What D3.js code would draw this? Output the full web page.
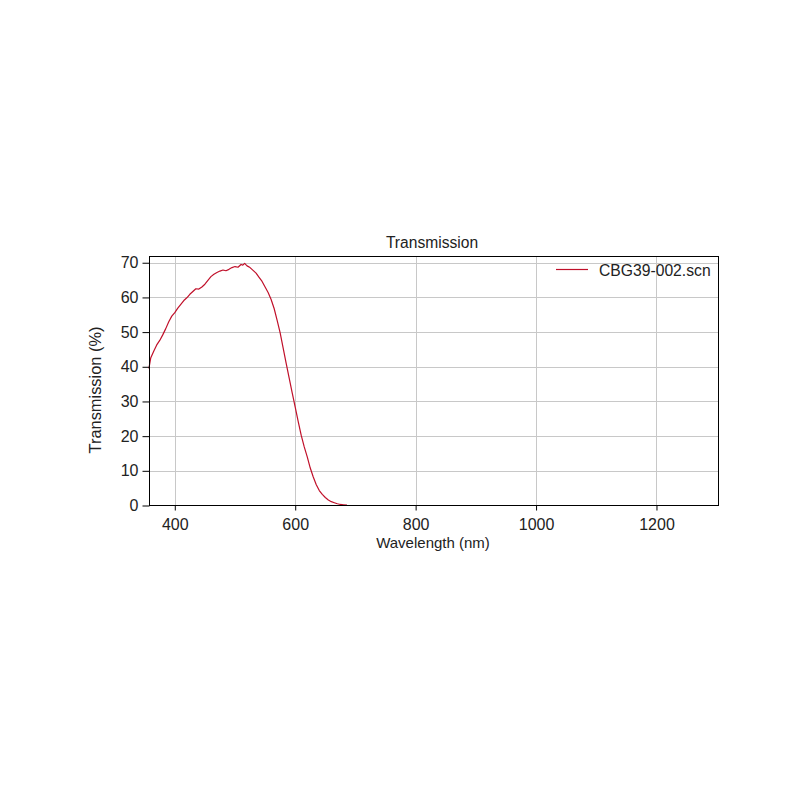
<!DOCTYPE html>
<html>
<head>
<meta charset="utf-8">
<script src="https://cdn.jsdelivr.net/npm/d3@7"></script>
<style>
  html, body { margin: 0; padding: 0; background: #ffffff; }
  svg { display: block; }
  text { font-family: "Liberation Sans", Arial, sans-serif; fill: #222; }
</style>
</head>
<body>
<svg id="chart" width="800" height="800"></svg>
<script>
const title = "Transmission";
const xLabel = "Wavelength (nm)";
const yLabel = "Transmission (%)";
const seriesName = "CBG39-002.scn";
const xTicks = [400, 600, 800, 1000, 1200];
const yTicks = [0, 10, 20, 30, 40, 50, 60, 70];
const xDomain = [358, 1303];
const yDomain = [0, 71.8];

const wavelengths = [357, 360, 365, 370, 375, 380, 385, 390, 395, 400, 405, 410, 415, 420, 425, 430, 435, 440, 445, 450,
  455, 460, 465, 470, 475, 480, 485, 490, 495, 500, 505, 510, 513, 516, 520, 525, 530, 535, 540, 545,
  550, 555, 560, 565, 570, 575, 580, 585, 590, 595, 600, 605, 610, 615, 620, 625, 630, 635, 640, 645,
  650, 655, 660, 665, 670, 675, 680, 686];
const transmission = [39.5, 42.5, 44.5, 46.3, 47.6, 49.2, 51.0, 53.0, 54.6, 55.6, 56.9, 58.0, 59.1, 59.9, 60.9, 61.7, 62.5, 62.4, 63.0, 63.8,
  64.9, 66.0, 66.7, 67.2, 67.6, 67.9, 67.7, 68.1, 68.6, 68.9, 68.7, 69.5, 69.3, 69.8, 69.1, 68.6, 67.8, 67.0, 65.8, 64.6,
  63.0, 61.4, 59.4, 56.8, 53.4, 49.8, 45.4, 41.0, 36.7, 32.5, 28.4, 24.2, 20.2, 16.9, 14.0, 10.8, 8.2, 6.0, 4.3, 3.2,
  2.3, 1.6, 1.1, 0.8, 0.5, 0.3, 0.2, 0.1];

const lineColor = "#c0102a";
const svg = d3.select("#chart");

const x = d3.scaleLinear().domain(xDomain).range([149.5, 718.5]);
const y = d3.scaleLinear().domain(yDomain).range([505.5, 256.5]);

// gridlines
const grid = svg.append("g").attr("stroke", "#c8c8c8").attr("stroke-width", 1);
grid.selectAll("line.v").data(xTicks).join("line")
  .attr("x1", d => Math.round(x(d)) + 0.5).attr("x2", d => Math.round(x(d)) + 0.5)
  .attr("y1", y.range()[1]).attr("y2", y.range()[0]);
grid.selectAll("line.h").data(yTicks.filter(d => d > 0)).join("line")
  .attr("y1", d => Math.round(y(d)) + 0.5).attr("y2", d => Math.round(y(d)) + 0.5)
  .attr("x1", x.range()[0]).attr("x2", x.range()[1]);

// data line
const pts = wavelengths.map((w, i) => [w, transmission[i]]);
svg.append("path")
  .datum(pts)
  .attr("fill", "none")
  .attr("stroke", lineColor)
  .attr("stroke-width", 1.2)
  .attr("stroke-linejoin", "round")
  .attr("d", d3.line().x(d => x(d[0])).y(d => y(d[1])));

// frame
svg.append("rect")
  .attr("x", x.range()[0]).attr("y", y.range()[1])
  .attr("width", x.range()[1] - x.range()[0])
  .attr("height", y.range()[0] - y.range()[1])
  .attr("fill", "none").attr("stroke", "#000").attr("stroke-width", 1);

// axes
const xAxis = svg.append("g")
  .attr("transform", `translate(0,${y.range()[0]})`)
  .call(d3.axisBottom(x).tickValues(xTicks).tickSize(5).tickPadding(8).tickFormat(d3.format("d")));
const yAxis = svg.append("g")
  .attr("transform", `translate(${x.range()[0]},0)`)
  .call(d3.axisLeft(y).tickValues(yTicks).tickSize(7).tickPadding(4).tickFormat(d3.format("d")));
[xAxis, yAxis].forEach(g => {
  g.select(".domain").remove();
  g.selectAll(".tick line").attr("stroke", "#000");
  g.selectAll(".tick text").attr("font-size", 16).attr("fill", "#222")
    .attr("font-family", "'Liberation Sans', Arial, sans-serif");
});

// title and labels
svg.append("text").attr("x", 432).attr("y", 248).attr("text-anchor", "middle")
  .attr("font-size", 15.6).text(title);
svg.append("text").attr("x", 433).attr("y", 548).attr("text-anchor", "middle")
  .attr("font-size", 15).text(xLabel);
svg.append("text").attr("transform", "translate(100.5,390) rotate(-90)")
  .attr("text-anchor", "middle").attr("font-size", 16.4).text(yLabel);

// legend
svg.append("line").attr("x1", 556).attr("x2", 588).attr("y1", 269.5).attr("y2", 269.5)
  .attr("stroke", lineColor).attr("stroke-width", 1.2);
svg.append("text").attr("x", 599).attr("y", 275.5).attr("font-size", 15.7).text(seriesName);
</script>
</body>
</html>
